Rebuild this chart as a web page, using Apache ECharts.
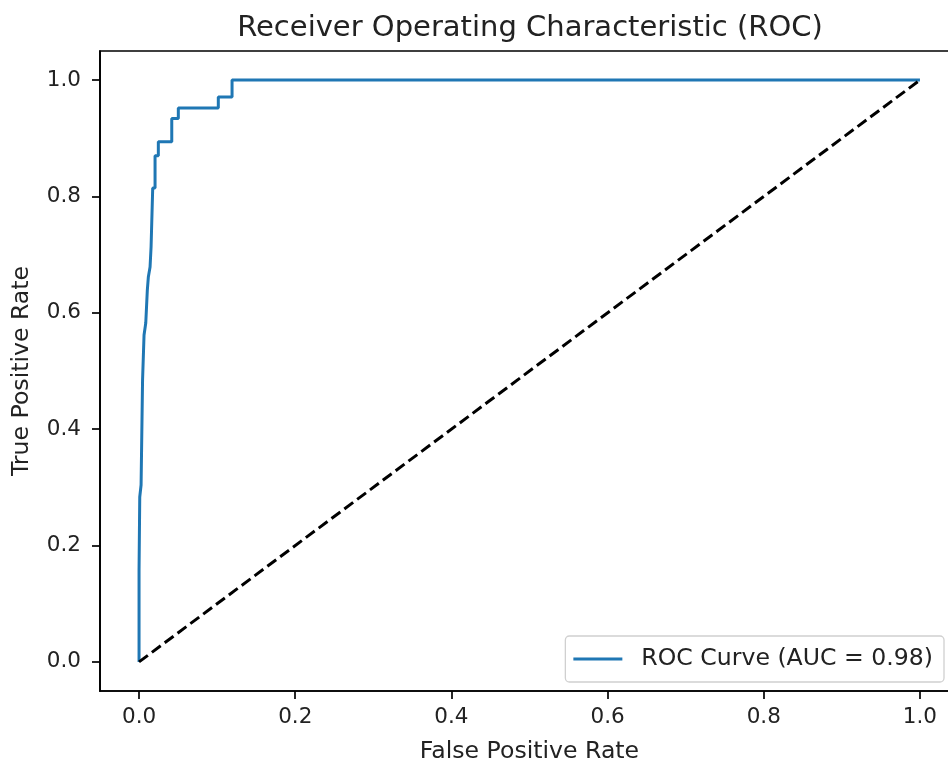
<!DOCTYPE html>
<html>
<head>
<meta charset="utf-8">
<script src="https://cdn.jsdelivr.net/npm/echarts@6/dist/echarts.min.js"></script>
<style>html,body{margin:0;padding:0;background:#fff;overflow:hidden;}#c{width:948px;height:767px;}</style>
</head>
<body>
<div id="c"></div>
<script>
// ROC curve corner points
const fpr = [0, 0, 0.0009, 0.0009, 0.0026, 0.0026, 0.0045, 0.0045, 0.0064, 0.0064, 0.0086, 0.0086, 0.0106, 0.0106, 0.0119, 0.0119, 0.0141, 0.0141, 0.0154, 0.0154, 0.0175, 0.0175, 0.0205, 0.0205, 0.0247, 0.0247, 0.0419, 0.0419, 0.0503, 0.0503, 0.1015, 0.1015, 0.1191, 0.1191, 1.0];
const tpr = [0, 0.158, 0.158, 0.2835, 0.2835, 0.304, 0.304, 0.4845, 0.4845, 0.5619, 0.5619, 0.5825, 0.5825, 0.639, 0.639, 0.6615, 0.6615, 0.6787, 0.6787, 0.7131, 0.7131, 0.8144, 0.8144, 0.870, 0.870, 0.894, 0.894, 0.934, 0.934, 0.952, 0.952, 0.971, 0.971, 1.0, 1.0];
const chanceX = [0, 1];
const chanceY = [0, 1];
const tickValues = [0, 0.2, 0.4, 0.6, 0.8, 1.0];
const seriesName = 'ROC Curve (AUC = 0.98)';
const titleText = 'Receiver Operating Characteristic (ROC)';
const xName = 'False Positive Rate';
const yName = 'True Positive Rate';

const font = 'DejaVu Sans';
const chart = echarts.init(document.getElementById('c'), null, {renderer: 'canvas'});
const axisCommon = {
  type: 'value', min: -0.05, max: 1.05,
  splitLine: {show: false},
  axisLine: {show: true, onZero: false, lineStyle: {color: '#000', width: 1.7}},
  axisTick: {show: true, length: 8, customValues: tickValues, lineStyle: {color: '#000', width: 1.7}},
  axisLabel: {customValues: tickValues, formatter: v => v.toFixed(1), color: '#222', fontFamily: font, fontSize: 21.5},
  nameLocation: 'middle',
  nameTextStyle: {color: '#222', fontFamily: font, fontSize: 23.6}
};
chart.setOption({
  animation: false,
  backgroundColor: '#fff',
  title: {text: titleText, left: 525, top: 9, textAlign: 'center',
    textStyle: {fontFamily: font, fontSize: 29, fontWeight: 'normal', color: '#222'}},
  grid: {left: 100, top: 51, width: 859, height: 640, outerBoundsMode: 'none', containLabel: false,
    show: true, borderColor: '#000', borderWidth: 1.7, backgroundColor: 'transparent'},
  legend: {
    data: [seriesName], right: 4, top: 636, orient: 'vertical',
    icon: 'rect', itemWidth: 49, itemHeight: 3,
    padding: [11, 11, 11, 8],
    backgroundColor: 'rgba(255,255,255,0.8)', borderColor: '#d0d0d0', borderWidth: 1.3, borderRadius: 4,
    textStyle: {fontFamily: font, fontSize: 23.6, color: '#222', padding: [0, 0, 0, 14]}
  },
  xAxis: Object.assign({}, axisCommon, {name: xName, nameGap: 49,
    axisLabel: Object.assign({}, axisCommon.axisLabel, {margin: 15})}),
  yAxis: Object.assign({}, axisCommon, {name: yName, nameGap: 66,
    axisLabel: Object.assign({}, axisCommon.axisLabel, {margin: 19})}),
  series: [
    {name: seriesName, type: 'line', symbol: 'none', data: fpr.map((x, i) => [x, tpr[i]]),
      lineStyle: {color: '#1f77b4', width: 3}, itemStyle: {color: '#1f77b4'}},
    {name: 'chance', type: 'line', symbol: 'none', data: chanceX.map((x, i) => [x, chanceY[i]]),
      lineStyle: {color: '#000', width: 3, type: [11, 5]}, itemStyle: {color: '#000'}}
  ]
});
</script>
</body>
</html>
